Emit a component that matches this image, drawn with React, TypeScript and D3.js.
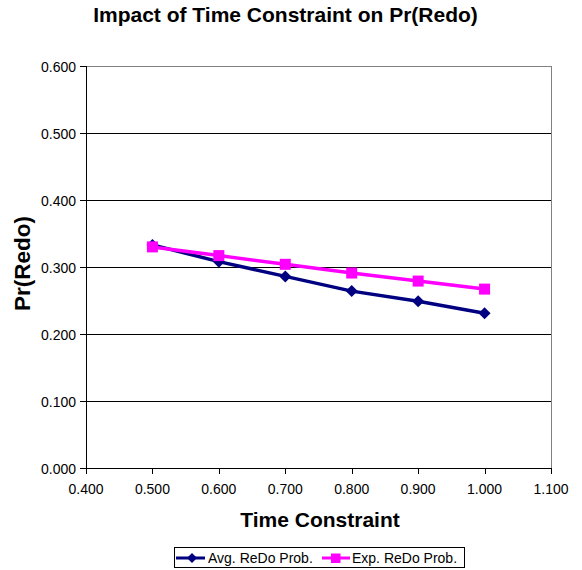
import React from "react";
import * as d3 from "d3";

const timeConstraint = [0.5, 0.6, 0.7, 0.8, 0.9, 1.0];
const avgRedo = [0.333, 0.308, 0.286, 0.264, 0.249, 0.231];
const expRedo = [0.330, 0.317, 0.304, 0.291, 0.279, 0.267];
const xTicks = [0.4, 0.5, 0.6, 0.7, 0.8, 0.9, 1.0, 1.1];
const yTicks = [0, 0.1, 0.2, 0.3, 0.4, 0.5, 0.6];
const seriesNames = ["Avg. ReDo Prob.", "Exp. ReDo Prob."];

const W = 582, H = 570;
const L = 86, R = 551, T = 66, B = 468;
const font = "'Liberation Sans', Arial, sans-serif";

export default function App() {
  const x = d3.scaleLinear().domain([0.4, 1.1]).range([L, R]);
  const y = d3.scaleLinear().domain([0, 0.6]).range([B, T]);
  const line = d3.line<number>().x((_, i) => x(timeConstraint[i])).y((d) => y(d));
  const diamond = (cx: number, cy: number, r: number) =>
    `M${cx},${cy - r}L${cx + r},${cy}L${cx},${cy + r}L${cx - r},${cy}Z`;
  const navy = "#000080", pink = "#FF00FF";
  return (
    <svg width={W} height={H} style={{ position: "absolute", left: 0, top: 0 }} fontFamily={font}>
      <rect x={0} y={0} width={W} height={H} fill="#fff" />
      <text x={285.5} y={22} textAnchor="middle" fontSize={21} fontWeight="bold">
        Impact of Time Constraint on Pr(Redo)
      </text>
      {/* plot border */}
      <rect x={L + 0.5} y={T + 0.5} width={R - L} height={B - T} fill="none" stroke="#808080" strokeWidth={1} />
      {yTicks.slice(1, -1).map((t) => (
        <line key={t} x1={L} x2={R} y1={Math.round(y(t)) + 0.5} y2={Math.round(y(t)) + 0.5} stroke="#000" />
      ))}
      {/* axes */}
      <line x1={L + 0.5} x2={L + 0.5} y1={T} y2={B} stroke="#000" />
      <line x1={L} x2={R} y1={B + 0.5} y2={B + 0.5} stroke="#000" />
      {yTicks.map((t) => (
        <g key={t}>
          <line x1={L - 6} x2={L} y1={Math.round(y(t)) + 0.5} y2={Math.round(y(t)) + 0.5} stroke="#000" />
          <text x={L - 10} y={y(t) + 5.5} textAnchor="end" fontSize={14}>{t.toFixed(3)}</text>
        </g>
      ))}
      {xTicks.map((t) => (
        <g key={t}>
          <line x1={Math.round(x(t)) + 0.5} x2={Math.round(x(t)) + 0.5} y1={B} y2={B + 6} stroke="#000" />
          <text x={x(t)} y={B + 26} textAnchor="middle" fontSize={14}>{t.toFixed(3)}</text>
        </g>
      ))}
      <text x={320} y={527} textAnchor="middle" fontSize={21} fontWeight="bold">Time Constraint</text>
      <text transform={`translate(30,263.5) rotate(-90)`} textAnchor="middle" fontSize={22.5} fontWeight="bold">
        Pr(Redo)
      </text>
      {/* series */}
      <path d={line(avgRedo) || ""} fill="none" stroke={navy} strokeWidth={3.5} />
      {avgRedo.map((v, i) => (
        <path key={i} d={diamond(x(timeConstraint[i]), y(v), 6)} fill={navy} />
      ))}
      <path d={line(expRedo) || ""} fill="none" stroke={pink} strokeWidth={3.5} />
      {expRedo.map((v, i) => (
        <rect key={i} x={x(timeConstraint[i]) - 5.5} y={y(v) - 5.5} width={11} height={11} fill={pink} />
      ))}
      {/* legend */}
      <rect x={174.5} y={547.5} width={290} height={20} fill="#fff" stroke="#000" />
      <line x1={176} x2={205} y1={558} y2={558} stroke={navy} strokeWidth={3} />
      <path d={diamond(192, 558, 5)} fill={navy} />
      <text x={208} y={563} fontSize={14}>{seriesNames[0]}</text>
      <line x1={322} x2={350} y1={558} y2={558} stroke={pink} strokeWidth={3} />
      <rect x={331} y={553.5} width={9.5} height={9.5} fill={pink} />
      <text x={352} y={563} fontSize={14}>{seriesNames[1]}</text>
    </svg>
  );
}
